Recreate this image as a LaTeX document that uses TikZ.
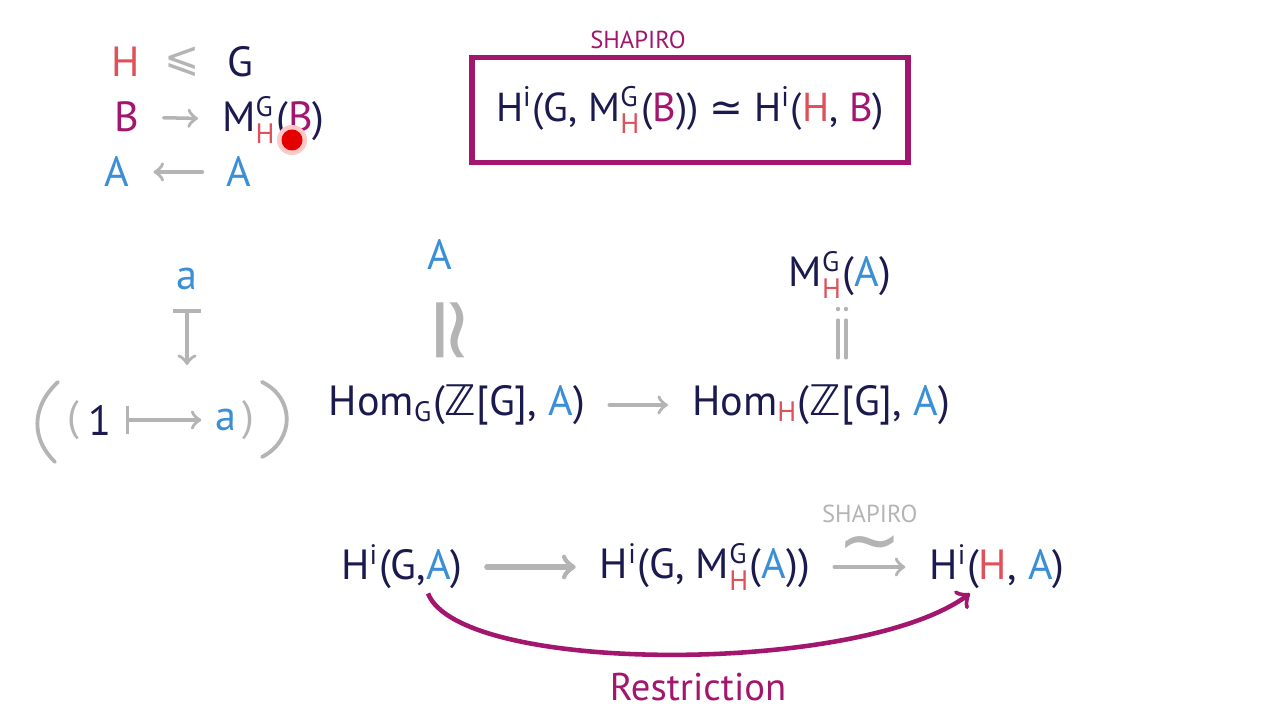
\documentclass[tikz,border=0pt]{standalone}
\usepackage{fontspec}
\usepackage{amsmath}
\setmainfont{PT Sans}
\newfontfamily\symf{DejaVu Sans}
\usetikzlibrary{positioning}

\definecolor{ink}{HTML}{1B1A4F}
\definecolor{hred}{HTML}{E0505A}
\definecolor{magen}{HTML}{A3166E}
\definecolor{ablue}{HTML}{3A8FD6}
\definecolor{pen}{HTML}{B4B4B4}

\newcommand{\Hc}{\textcolor{hred}{H}}
\newcommand{\Ac}{\textcolor{ablue}{A}}
\newcommand{\Bc}{\textcolor{magen}{B}}
\newcommand{\Mgh}{M$^{\text{G}}_{\text{\Hc}}$}
\newcommand{\Hi}{H$^{\text{i}}$}
\newcommand{\ZZ}{{\symf ℤ}}

\begin{document}
\begin{tikzpicture}[
    every node/.style={text=ink, font=\fontsize{12}{14}\selectfont, inner sep=1pt},
    gr/.style={draw=pen, line width=1pt, line cap=round, shorten >=2mm, shorten <=2mm},
    small/.style={font=\fontsize{7}{8}\selectfont}]
    \useasboundingbox (0,0) rectangle (12.8,-7.2);

    % Subgroup and modules
    \node (h) at (1.26,-0.62) {\Hc};
    \node[text=pen] (le) at (1.82,-0.62) {\symf ⩽};
    \node (g) at (2.40,-0.62) {G};
    \node (b) at (1.27,-1.17) {\Bc};
    \node[anchor=west] (mb) at (2.18,-1.20) {\Mgh(\Bc)};
    \node (a1) at (1.17,-1.72) {\Ac};
    \node (a2) at (2.39,-1.72) {\Ac};
    \draw[gr,->] (b) -- (mb);
    \draw[gr,->] (a2) -- (a1);

    % Pointer
    \fill[red!22] (2.92,-1.40) circle (0.15);
    \fill[red!90!black] (2.92,-1.40) circle (0.105);

    % Shapiro box
    \node[draw=magen, line width=1.5pt, minimum width=4.36cm, minimum height=1.05cm,
      font=\fontsize{11.5}{14}\selectfont] (shap) at (6.90,-1.10)
      {\Hi(G, \Mgh(\Bc)) {\symf ≃} \Hi(\Hc, \Bc)};
    \node[small, text=magen] (shapt) at (6.38,-0.40) {SHAPIRO};

    % Element a
    \node (ta) at (1.87,-2.79) {\textcolor{ablue}{a}};
    \coordinate (tip) at (1.87,-3.65);
    \draw[gr,|->, shorten >=0pt, shorten <=1.5mm] (ta) -- (tip);
    \node (one) at (1.00,-4.20) {1};
    \node (ba) at (2.26,-4.20) {\textcolor{ablue}{a}};
    \node[text=pen] (lp) at (0.73,-4.20) {(};
    \node[text=pen] (rp) at (2.48,-4.20) {)};
    \draw[gr,|->, shorten >=1mm, shorten <=1mm] (one) -- (ba);
    \draw[pen, line width=1.1pt, line cap=round] (0.58,-3.82) .. controls (0.30,-4.08) and (0.32,-4.40) .. (0.55,-4.62);
    \draw[pen, line width=1.1pt, line cap=round] (2.62,-3.82) .. controls (2.95,-3.98) and (2.95,-4.40) .. (2.62,-4.57);

    % Hom row
    \node (aa) at (4.40,-2.55) {\Ac};
    \node (ma) at (8.40,-2.75) {\Mgh(\Ac)};
    \node (homg) at (4.57,-4.05) {Hom$_{\text{G}}$(\ZZ[G], \Ac)};
    \node (homh) at (8.21,-4.05) {Hom$_{\text{\Hc}}$(\ZZ[G], \Ac)};
    \draw[gr,->] (homg) -- (homh);
    \node[rotate=-90, text=pen, font=\symf\fontsize{25}{25}\selectfont] (iso) at (4.43,-3.30) {≃};
    % equality with dots
    \foreach \x in {8.38,8.46}
    {
      \draw[pen, line width=0.9pt, line cap=round] (\x,-3.20) -- (\x,-3.58);
      \fill[pen] (\x,-3.09) circle (0.022);
    }

    % Cohomology row
    \node (hga) at (4.02,-5.67) {\Hi(G,\Ac)};
    \node (hgm) at (7.05,-5.67) {\Hi(G, \Mgh(\Ac))};
    \node (hha) at (9.97,-5.67) {\Hi(\Hc, \Ac)};
    \draw[gr,->, line width=1.5pt] (hga) -- (hgm);
    \draw[gr,->] (hgm) -- (hha)
      node[midway, above=-1.5pt, text=pen, font=\symf\fontsize{22}{22}\selectfont] (tl) {∼};
    \node[small, text=pen, above=1pt of tl] (shapg) {SHAPIRO};

    % Restriction
    \draw[magen, line width=1.3pt, ->] ([xshift=2.6mm]hga.south) .. controls (4.6,-6.75) and (8.6,-6.75) .. ([xshift=-2.7mm]hha.south);
    \node[text=magen, font=\fontsize{11}{13}\selectfont] (restr) at (6.98,-6.87) {Restriction};
\end{tikzpicture}
\end{document}
